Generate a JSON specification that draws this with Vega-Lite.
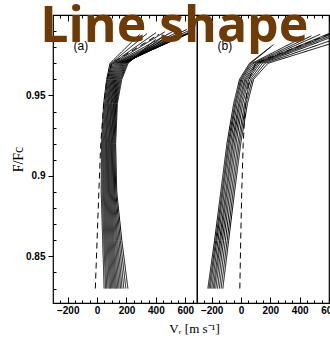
{
  "$schema": "https://vega.github.io/schema/vega-lite/v6.json",
  "padding": {"left": 10, "top": 1, "right": 0, "bottom": 0},
  "bounds": "flush",
  "spacing": 0,
  "config": {
    "view": {"stroke": "black", "strokeWidth": 1.2},
    "font": "Liberation Sans",
    "axis": {"grid": false, "domain": false, "tickColor": "black", "labelColor": "black", "titleColor": "black", "tickWidth": 1, "labelOverlap": false, "labelFlush": false}
  },
  "datasets": {
    "a": [
      {"id": "a1", "k": "s", "i": 0, "v": 48, "f": 0.83}, {"id": "a1", "k": "s", "i": 1, "v": 38, "f": 0.86}, {"id": "a1", "k": "s", "i": 2, "v": 28, "f": 0.89}, {"id": "a1", "k": "s", "i": 3, "v": 30, "f": 0.92}, {"id": "a1", "k": "s", "i": 4, "v": 45, "f": 0.945}, {"id": "a1", "k": "s", "i": 5, "v": 65, "f": 0.96}, {"id": "a1", "k": "s", "i": 6, "v": 88, "f": 0.97}, {"id": "a1", "k": "s", "i": 7, "v": 290, "f": 0.988},
      {"id": "a2", "k": "s", "i": 0, "v": 58, "f": 0.83}, {"id": "a2", "k": "s", "i": 1, "v": 46, "f": 0.86}, {"id": "a2", "k": "s", "i": 2, "v": 35, "f": 0.89}, {"id": "a2", "k": "s", "i": 3, "v": 36, "f": 0.92}, {"id": "a2", "k": "s", "i": 4, "v": 52, "f": 0.945}, {"id": "a2", "k": "s", "i": 5, "v": 72, "f": 0.96}, {"id": "a2", "k": "s", "i": 6, "v": 96, "f": 0.97}, {"id": "a2", "k": "s", "i": 7, "v": 340, "f": 0.9885},
      {"id": "a3", "k": "s", "i": 0, "v": 66, "f": 0.83}, {"id": "a3", "k": "s", "i": 1, "v": 53, "f": 0.86}, {"id": "a3", "k": "s", "i": 2, "v": 42, "f": 0.89}, {"id": "a3", "k": "s", "i": 3, "v": 42, "f": 0.92}, {"id": "a3", "k": "s", "i": 4, "v": 58, "f": 0.945}, {"id": "a3", "k": "s", "i": 5, "v": 78, "f": 0.96}, {"id": "a3", "k": "s", "i": 6, "v": 104, "f": 0.97}, {"id": "a3", "k": "s", "i": 7, "v": 400, "f": 0.989},
      {"id": "a4", "k": "s", "i": 0, "v": 75, "f": 0.83}, {"id": "a4", "k": "s", "i": 1, "v": 60, "f": 0.86}, {"id": "a4", "k": "s", "i": 2, "v": 48, "f": 0.89}, {"id": "a4", "k": "s", "i": 3, "v": 48, "f": 0.92}, {"id": "a4", "k": "s", "i": 4, "v": 64, "f": 0.945}, {"id": "a4", "k": "s", "i": 5, "v": 84, "f": 0.96}, {"id": "a4", "k": "s", "i": 6, "v": 112, "f": 0.97}, {"id": "a4", "k": "s", "i": 7, "v": 460, "f": 0.9895},
      {"id": "a5", "k": "s", "i": 0, "v": 84, "f": 0.83}, {"id": "a5", "k": "s", "i": 1, "v": 67, "f": 0.86}, {"id": "a5", "k": "s", "i": 2, "v": 54, "f": 0.89}, {"id": "a5", "k": "s", "i": 3, "v": 54, "f": 0.92}, {"id": "a5", "k": "s", "i": 4, "v": 70, "f": 0.945}, {"id": "a5", "k": "s", "i": 5, "v": 90, "f": 0.96}, {"id": "a5", "k": "s", "i": 6, "v": 120, "f": 0.97}, {"id": "a5", "k": "s", "i": 7, "v": 520, "f": 0.99},
      {"id": "a6", "k": "s", "i": 0, "v": 92, "f": 0.83}, {"id": "a6", "k": "s", "i": 1, "v": 74, "f": 0.86}, {"id": "a6", "k": "s", "i": 2, "v": 60, "f": 0.89}, {"id": "a6", "k": "s", "i": 3, "v": 59, "f": 0.92}, {"id": "a6", "k": "s", "i": 4, "v": 75, "f": 0.945}, {"id": "a6", "k": "s", "i": 5, "v": 96, "f": 0.96}, {"id": "a6", "k": "s", "i": 6, "v": 128, "f": 0.97}, {"id": "a6", "k": "s", "i": 7, "v": 570, "f": 0.9905},
      {"id": "a7", "k": "s", "i": 0, "v": 100, "f": 0.83}, {"id": "a7", "k": "s", "i": 1, "v": 81, "f": 0.86}, {"id": "a7", "k": "s", "i": 2, "v": 66, "f": 0.89}, {"id": "a7", "k": "s", "i": 3, "v": 64, "f": 0.92}, {"id": "a7", "k": "s", "i": 4, "v": 80, "f": 0.945}, {"id": "a7", "k": "s", "i": 5, "v": 102, "f": 0.96}, {"id": "a7", "k": "s", "i": 6, "v": 135, "f": 0.97}, {"id": "a7", "k": "s", "i": 7, "v": 610, "f": 0.991},
      {"id": "a8", "k": "s", "i": 0, "v": 108, "f": 0.83}, {"id": "a8", "k": "s", "i": 1, "v": 88, "f": 0.86}, {"id": "a8", "k": "s", "i": 2, "v": 72, "f": 0.89}, {"id": "a8", "k": "s", "i": 3, "v": 70, "f": 0.92}, {"id": "a8", "k": "s", "i": 4, "v": 86, "f": 0.945}, {"id": "a8", "k": "s", "i": 5, "v": 108, "f": 0.96}, {"id": "a8", "k": "s", "i": 6, "v": 142, "f": 0.97}, {"id": "a8", "k": "s", "i": 7, "v": 640, "f": 0.991},
      {"id": "a9", "k": "s", "i": 0, "v": 116, "f": 0.83}, {"id": "a9", "k": "s", "i": 1, "v": 95, "f": 0.86}, {"id": "a9", "k": "s", "i": 2, "v": 78, "f": 0.89}, {"id": "a9", "k": "s", "i": 3, "v": 76, "f": 0.92}, {"id": "a9", "k": "s", "i": 4, "v": 92, "f": 0.945}, {"id": "a9", "k": "s", "i": 5, "v": 114, "f": 0.96}, {"id": "a9", "k": "s", "i": 6, "v": 150, "f": 0.97}, {"id": "a9", "k": "s", "i": 7, "v": 655, "f": 0.9905},
      {"id": "a10", "k": "s", "i": 0, "v": 124, "f": 0.83}, {"id": "a10", "k": "s", "i": 1, "v": 102, "f": 0.86}, {"id": "a10", "k": "s", "i": 2, "v": 84, "f": 0.89}, {"id": "a10", "k": "s", "i": 3, "v": 81, "f": 0.92}, {"id": "a10", "k": "s", "i": 4, "v": 97, "f": 0.945}, {"id": "a10", "k": "s", "i": 5, "v": 120, "f": 0.96}, {"id": "a10", "k": "s", "i": 6, "v": 157, "f": 0.97}, {"id": "a10", "k": "s", "i": 7, "v": 660, "f": 0.99},
      {"id": "a11", "k": "s", "i": 0, "v": 132, "f": 0.83}, {"id": "a11", "k": "s", "i": 1, "v": 109, "f": 0.86}, {"id": "a11", "k": "s", "i": 2, "v": 90, "f": 0.89}, {"id": "a11", "k": "s", "i": 3, "v": 86, "f": 0.92}, {"id": "a11", "k": "s", "i": 4, "v": 102, "f": 0.945}, {"id": "a11", "k": "s", "i": 5, "v": 126, "f": 0.96}, {"id": "a11", "k": "s", "i": 6, "v": 164, "f": 0.97}, {"id": "a11", "k": "s", "i": 7, "v": 650, "f": 0.9895},
      {"id": "a12", "k": "s", "i": 0, "v": 141, "f": 0.83}, {"id": "a12", "k": "s", "i": 1, "v": 116, "f": 0.86}, {"id": "a12", "k": "s", "i": 2, "v": 96, "f": 0.89}, {"id": "a12", "k": "s", "i": 3, "v": 92, "f": 0.92}, {"id": "a12", "k": "s", "i": 4, "v": 108, "f": 0.945}, {"id": "a12", "k": "s", "i": 5, "v": 132, "f": 0.96}, {"id": "a12", "k": "s", "i": 6, "v": 171, "f": 0.97}, {"id": "a12", "k": "s", "i": 7, "v": 630, "f": 0.989},
      {"id": "a13", "k": "s", "i": 0, "v": 150, "f": 0.83}, {"id": "a13", "k": "s", "i": 1, "v": 124, "f": 0.86}, {"id": "a13", "k": "s", "i": 2, "v": 102, "f": 0.89}, {"id": "a13", "k": "s", "i": 3, "v": 97, "f": 0.92}, {"id": "a13", "k": "s", "i": 4, "v": 113, "f": 0.945}, {"id": "a13", "k": "s", "i": 5, "v": 138, "f": 0.96}, {"id": "a13", "k": "s", "i": 6, "v": 178, "f": 0.97}, {"id": "a13", "k": "s", "i": 7, "v": 600, "f": 0.988},
      {"id": "a14", "k": "s", "i": 0, "v": 160, "f": 0.83}, {"id": "a14", "k": "s", "i": 1, "v": 132, "f": 0.86}, {"id": "a14", "k": "s", "i": 2, "v": 108, "f": 0.89}, {"id": "a14", "k": "s", "i": 3, "v": 103, "f": 0.92}, {"id": "a14", "k": "s", "i": 4, "v": 118, "f": 0.945}, {"id": "a14", "k": "s", "i": 5, "v": 144, "f": 0.96}, {"id": "a14", "k": "s", "i": 6, "v": 185, "f": 0.97}, {"id": "a14", "k": "s", "i": 7, "v": 560, "f": 0.9875},
      {"id": "a15", "k": "s", "i": 0, "v": 170, "f": 0.83}, {"id": "a15", "k": "s", "i": 1, "v": 140, "f": 0.86}, {"id": "a15", "k": "s", "i": 2, "v": 114, "f": 0.89}, {"id": "a15", "k": "s", "i": 3, "v": 108, "f": 0.92}, {"id": "a15", "k": "s", "i": 4, "v": 123, "f": 0.945}, {"id": "a15", "k": "s", "i": 5, "v": 150, "f": 0.96}, {"id": "a15", "k": "s", "i": 6, "v": 192, "f": 0.97}, {"id": "a15", "k": "s", "i": 7, "v": 520, "f": 0.987},
      {"id": "a16", "k": "s", "i": 0, "v": 182, "f": 0.83}, {"id": "a16", "k": "s", "i": 1, "v": 149, "f": 0.86}, {"id": "a16", "k": "s", "i": 2, "v": 120, "f": 0.89}, {"id": "a16", "k": "s", "i": 3, "v": 114, "f": 0.92}, {"id": "a16", "k": "s", "i": 4, "v": 128, "f": 0.945}, {"id": "a16", "k": "s", "i": 5, "v": 156, "f": 0.96}, {"id": "a16", "k": "s", "i": 6, "v": 199, "f": 0.97}, {"id": "a16", "k": "s", "i": 7, "v": 480, "f": 0.9865},
      {"id": "a17", "k": "s", "i": 0, "v": 196, "f": 0.83}, {"id": "a17", "k": "s", "i": 1, "v": 158, "f": 0.86}, {"id": "a17", "k": "s", "i": 2, "v": 127, "f": 0.89}, {"id": "a17", "k": "s", "i": 3, "v": 120, "f": 0.92}, {"id": "a17", "k": "s", "i": 4, "v": 133, "f": 0.945}, {"id": "a17", "k": "s", "i": 5, "v": 162, "f": 0.96}, {"id": "a17", "k": "s", "i": 6, "v": 205, "f": 0.97}, {"id": "a17", "k": "s", "i": 7, "v": 440, "f": 0.986},
      {"id": "a18", "k": "s", "i": 0, "v": 210, "f": 0.83}, {"id": "a18", "k": "s", "i": 1, "v": 168, "f": 0.86}, {"id": "a18", "k": "s", "i": 2, "v": 134, "f": 0.89}, {"id": "a18", "k": "s", "i": 3, "v": 126, "f": 0.92}, {"id": "a18", "k": "s", "i": 4, "v": 138, "f": 0.945}, {"id": "a18", "k": "s", "i": 5, "v": 168, "f": 0.96}, {"id": "a18", "k": "s", "i": 6, "v": 211, "f": 0.97}, {"id": "a18", "k": "s", "i": 7, "v": 400, "f": 0.985},
      {"id": "ad", "k": "d", "i": 0, "v": -12, "f": 0.83}, {"id": "ad", "k": "d", "i": 1, "v": 0, "f": 0.86}, {"id": "ad", "k": "d", "i": 2, "v": 12, "f": 0.89}, {"id": "ad", "k": "d", "i": 3, "v": 25, "f": 0.92}, {"id": "ad", "k": "d", "i": 4, "v": 45, "f": 0.945}, {"id": "ad", "k": "d", "i": 5, "v": 68, "f": 0.96}, {"id": "ad", "k": "d", "i": 6, "v": 100, "f": 0.97}, {"id": "ad", "k": "d", "i": 7, "v": 420, "f": 0.988}
    ],
    "b": [
      {"id": "b1", "k": "s", "i": 0, "v": -226, "f": 0.83}, {"id": "b1", "k": "s", "i": 1, "v": -180, "f": 0.86}, {"id": "b1", "k": "s", "i": 2, "v": -138, "f": 0.89}, {"id": "b1", "k": "s", "i": 3, "v": -96, "f": 0.92}, {"id": "b1", "k": "s", "i": 4, "v": -50, "f": 0.945}, {"id": "b1", "k": "s", "i": 5, "v": -10, "f": 0.96}, {"id": "b1", "k": "s", "i": 6, "v": 58, "f": 0.97}, {"id": "b1", "k": "s", "i": 7, "v": 200, "f": 0.98},
      {"id": "b2", "k": "s", "i": 0, "v": -218, "f": 0.83}, {"id": "b2", "k": "s", "i": 1, "v": -172, "f": 0.86}, {"id": "b2", "k": "s", "i": 2, "v": -130, "f": 0.89}, {"id": "b2", "k": "s", "i": 3, "v": -88, "f": 0.92}, {"id": "b2", "k": "s", "i": 4, "v": -42, "f": 0.945}, {"id": "b2", "k": "s", "i": 5, "v": -2, "f": 0.96}, {"id": "b2", "k": "s", "i": 6, "v": 66, "f": 0.97}, {"id": "b2", "k": "s", "i": 7, "v": 220, "f": 0.9815},
      {"id": "b3", "k": "s", "i": 0, "v": -210, "f": 0.83}, {"id": "b3", "k": "s", "i": 1, "v": -165, "f": 0.86}, {"id": "b3", "k": "s", "i": 2, "v": -123, "f": 0.89}, {"id": "b3", "k": "s", "i": 3, "v": -81, "f": 0.92}, {"id": "b3", "k": "s", "i": 4, "v": -35, "f": 0.945}, {"id": "b3", "k": "s", "i": 5, "v": 5, "f": 0.96}, {"id": "b3", "k": "s", "i": 6, "v": 75, "f": 0.97}, {"id": "b3", "k": "s", "i": 7, "v": 420, "f": 0.986},
      {"id": "b4", "k": "s", "i": 0, "v": -200, "f": 0.83}, {"id": "b4", "k": "s", "i": 1, "v": -156, "f": 0.86}, {"id": "b4", "k": "s", "i": 2, "v": -114, "f": 0.89}, {"id": "b4", "k": "s", "i": 3, "v": -72, "f": 0.92}, {"id": "b4", "k": "s", "i": 4, "v": -26, "f": 0.945}, {"id": "b4", "k": "s", "i": 5, "v": 14, "f": 0.96}, {"id": "b4", "k": "s", "i": 6, "v": 86, "f": 0.97}, {"id": "b4", "k": "s", "i": 7, "v": 480, "f": 0.987},
      {"id": "b5", "k": "s", "i": 0, "v": -190, "f": 0.83}, {"id": "b5", "k": "s", "i": 1, "v": -146, "f": 0.86}, {"id": "b5", "k": "s", "i": 2, "v": -104, "f": 0.89}, {"id": "b5", "k": "s", "i": 3, "v": -62, "f": 0.92}, {"id": "b5", "k": "s", "i": 4, "v": -16, "f": 0.945}, {"id": "b5", "k": "s", "i": 5, "v": 24, "f": 0.96}, {"id": "b5", "k": "s", "i": 6, "v": 98, "f": 0.97}, {"id": "b5", "k": "s", "i": 7, "v": 540, "f": 0.988},
      {"id": "b6", "k": "s", "i": 0, "v": -182, "f": 0.83}, {"id": "b6", "k": "s", "i": 1, "v": -138, "f": 0.86}, {"id": "b6", "k": "s", "i": 2, "v": -96, "f": 0.89}, {"id": "b6", "k": "s", "i": 3, "v": -54, "f": 0.92}, {"id": "b6", "k": "s", "i": 4, "v": -8, "f": 0.945}, {"id": "b6", "k": "s", "i": 5, "v": 32, "f": 0.96}, {"id": "b6", "k": "s", "i": 6, "v": 108, "f": 0.97}, {"id": "b6", "k": "s", "i": 7, "v": 600, "f": 0.9885},
      {"id": "b7", "k": "s", "i": 0, "v": -172, "f": 0.83}, {"id": "b7", "k": "s", "i": 1, "v": -128, "f": 0.86}, {"id": "b7", "k": "s", "i": 2, "v": -86, "f": 0.89}, {"id": "b7", "k": "s", "i": 3, "v": -44, "f": 0.92}, {"id": "b7", "k": "s", "i": 4, "v": 2, "f": 0.945}, {"id": "b7", "k": "s", "i": 5, "v": 42, "f": 0.96}, {"id": "b7", "k": "s", "i": 6, "v": 118, "f": 0.97}, {"id": "b7", "k": "s", "i": 7, "v": 640, "f": 0.989},
      {"id": "b8", "k": "s", "i": 0, "v": -160, "f": 0.83}, {"id": "b8", "k": "s", "i": 1, "v": -118, "f": 0.86}, {"id": "b8", "k": "s", "i": 2, "v": -76, "f": 0.89}, {"id": "b8", "k": "s", "i": 3, "v": -34, "f": 0.92}, {"id": "b8", "k": "s", "i": 4, "v": 12, "f": 0.945}, {"id": "b8", "k": "s", "i": 5, "v": 52, "f": 0.96}, {"id": "b8", "k": "s", "i": 6, "v": 130, "f": 0.97}, {"id": "b8", "k": "s", "i": 7, "v": 640, "f": 0.988},
      {"id": "b9", "k": "s", "i": 0, "v": -148, "f": 0.83}, {"id": "b9", "k": "s", "i": 1, "v": -106, "f": 0.86}, {"id": "b9", "k": "s", "i": 2, "v": -65, "f": 0.89}, {"id": "b9", "k": "s", "i": 3, "v": -22, "f": 0.92}, {"id": "b9", "k": "s", "i": 4, "v": 24, "f": 0.945}, {"id": "b9", "k": "s", "i": 5, "v": 64, "f": 0.96}, {"id": "b9", "k": "s", "i": 6, "v": 146, "f": 0.97}, {"id": "b9", "k": "s", "i": 7, "v": 640, "f": 0.987},
      {"id": "b10", "k": "s", "i": 0, "v": -136, "f": 0.83}, {"id": "b10", "k": "s", "i": 1, "v": -94, "f": 0.86}, {"id": "b10", "k": "s", "i": 2, "v": -54, "f": 0.89}, {"id": "b10", "k": "s", "i": 3, "v": -12, "f": 0.92}, {"id": "b10", "k": "s", "i": 4, "v": 34, "f": 0.945}, {"id": "b10", "k": "s", "i": 5, "v": 76, "f": 0.96}, {"id": "b10", "k": "s", "i": 6, "v": 164, "f": 0.97}, {"id": "b10", "k": "s", "i": 7, "v": 640, "f": 0.985},
      {"id": "b11", "k": "s", "i": 0, "v": -124, "f": 0.83}, {"id": "b11", "k": "s", "i": 1, "v": -84, "f": 0.86}, {"id": "b11", "k": "s", "i": 2, "v": -44, "f": 0.89}, {"id": "b11", "k": "s", "i": 3, "v": -2, "f": 0.92}, {"id": "b11", "k": "s", "i": 4, "v": 44, "f": 0.945}, {"id": "b11", "k": "s", "i": 5, "v": 86, "f": 0.96}, {"id": "b11", "k": "s", "i": 6, "v": 184, "f": 0.97}, {"id": "b11", "k": "s", "i": 7, "v": 640, "f": 0.983},
      {"id": "bd", "k": "d", "i": 0, "v": -8, "f": 0.83}, {"id": "bd", "k": "d", "i": 1, "v": -2, "f": 0.86}, {"id": "bd", "k": "d", "i": 2, "v": 5, "f": 0.89}, {"id": "bd", "k": "d", "i": 3, "v": 15, "f": 0.92}, {"id": "bd", "k": "d", "i": 4, "v": 30, "f": 0.945}, {"id": "bd", "k": "d", "i": 5, "v": 55, "f": 0.96}, {"id": "bd", "k": "d", "i": 6, "v": 100, "f": 0.97}, {"id": "bd", "k": "d", "i": 7, "v": 600, "f": 0.988}
    ],
    "labA": [{"t": "(a)", "v": -110, "f": 0.978}],
    "labB": [{"t": "(b)", "v": -110, "f": 0.978}],
    "head": [{"t": "Line shape", "v": -455, "f": 0.983}]
  },
  "hconcat": [
    {
      "width": 144,
      "height": 288,
      "resolve": {"axis": {"x": "independent", "y": "independent"}},
      "layer": [
        {
          "data": {"name": "a"},
          "mark": {"type": "line", "color": "black", "strokeWidth": 1, "clip": true},
          "encoding": {
            "x": {"field": "v", "type": "quantitative", "scale": {"domain": [-300, 680], "nice": false, "zero": false},
              "axis": {"orient": "bottom", "values": [-250, -200, -150, -100, -50, 0, 50, 100, 150, 200, 250, 300, 350, 400, 450, 500, 550, 600, 650],
                "labelExpr": "datum.value % 200 === 0 ? datum.label : ''",
                "tickSize": {"condition": {"test": "datum.value % 200 === 0", "value": -6}, "value": -3},
                "labelPadding": 8, "labelFontSize": 10, "labelFontWeight": "bold", "labelFont": "Liberation Sans",
                "title": "Vᵣ [m s⁻¹]", "titleFont": "Liberation Serif", "titleFontSize": 13, "titleFontWeight": "normal", "titleX": 141, "titlePadding": 4}},
            "y": {"field": "f", "type": "quantitative", "scale": {"domain": [0.821, 1.0], "nice": false, "zero": false},
              "axis": {"orient": "left", "values": [0.83, 0.84, 0.85, 0.86, 0.87, 0.88, 0.89, 0.9, 0.91, 0.92, 0.93, 0.94, 0.95, 0.96, 0.97, 0.98, 0.99],
                "format": ".2~f",
                "labelExpr": "(datum.value == 0.85 || datum.value == 0.9 || datum.value == 0.95) ? datum.label : ''",
                "tickSize": {"condition": {"test": "datum.value == 0.85 || datum.value == 0.9 || datum.value == 0.95", "value": 5}, "value": -3},
                "labelPadding": 3, "labelFontSize": 10, "labelFontWeight": "bold", "labelFont": "Liberation Sans",
                "title": "F/Fc", "titleFont": "Liberation Serif", "titleFontSize": 14, "titleFontWeight": "normal", "titlePadding": 0}},
            "detail": {"field": "id"},
            "order": {"field": "i"},
            "strokeDash": {"field": "k", "type": "nominal", "scale": {"domain": ["s", "d"], "range": [[1, 0], [6, 4]]}, "legend": null}
          }
        },
        {
          "data": {"name": "a"},
          "mark": {"type": "line", "strokeOpacity": 0},
          "encoding": {
            "x": {"field": "v", "type": "quantitative", "axis": {"orient": "top", "values": [-250, -200, -150, -100, -50, 0, 50, 100, 150, 200, 250, 300, 350, 400, 450, 500, 550, 600, 650], "labels": false, "title": null,
              "tickSize": {"condition": {"test": "datum.value % 200 === 0", "value": -6}, "value": -3}}},
            "y": {"field": "f", "type": "quantitative", "axis": null},
            "detail": {"field": "id"}
          }
        },
        {
          "data": {"name": "labA"},
          "mark": {"type": "text", "font": "Liberation Sans", "fontSize": 12, "baseline": "alphabetic", "color": "black"},
          "encoding": {
            "x": {"field": "v", "type": "quantitative", "axis": null},
            "y": {"field": "f", "type": "quantitative", "axis": null},
            "text": {"field": "t"}
          }
        }
      ]
    },
    {
      "width": 132,
      "height": 288,
      "resolve": {"axis": {"x": "independent", "y": "independent"}},
      "layer": [
        {
          "data": {"name": "b"},
          "mark": {"type": "line", "color": "black", "strokeWidth": 1, "clip": true},
          "encoding": {
            "x": {"field": "v", "type": "quantitative", "scale": {"domain": [-300, 600], "nice": false, "zero": false},
              "axis": {"orient": "bottom", "values": [-250, -200, -150, -100, -50, 0, 50, 100, 150, 200, 250, 300, 350, 400, 450, 500, 550, 600],
                "labelExpr": "datum.value % 200 === 0 ? datum.label : ''",
                "tickSize": {"condition": {"test": "datum.value % 200 === 0", "value": -6}, "value": -3},
                "labelPadding": 8, "labelFontSize": 10, "labelFontWeight": "bold", "labelFont": "Liberation Sans", "title": null}},
            "y": {"field": "f", "type": "quantitative", "scale": {"domain": [0.821, 1.0], "nice": false, "zero": false}, "axis": null},
            "detail": {"field": "id"},
            "order": {"field": "i"},
            "strokeDash": {"field": "k", "type": "nominal", "scale": {"domain": ["s", "d"], "range": [[1, 0], [6, 4]]}, "legend": null}
          }
        },
        {
          "data": {"name": "b"},
          "mark": {"type": "line", "strokeOpacity": 0},
          "encoding": {
            "x": {"field": "v", "type": "quantitative", "axis": {"orient": "top", "values": [-250, -200, -150, -100, -50, 0, 50, 100, 150, 200, 250, 300, 350, 400, 450, 500, 550, 600], "labels": false, "title": null,
              "tickSize": {"condition": {"test": "datum.value % 200 === 0", "value": -6}, "value": -3}}},
            "y": {"field": "f", "type": "quantitative", "axis": null},
            "detail": {"field": "id"}
          }
        },
        {
          "data": {"name": "labB"},
          "mark": {"type": "text", "font": "Liberation Sans", "fontSize": 12, "baseline": "alphabetic", "color": "black"},
          "encoding": {
            "x": {"field": "v", "type": "quantitative", "axis": null},
            "y": {"field": "f", "type": "quantitative", "axis": null},
            "text": {"field": "t"}
          }
        },
        {
          "data": {"name": "head"},
          "mark": {"type": "text", "font": "Open Sans", "fontSize": 50, "fontWeight": "bold", "color": "#6e3b06", "align": "center", "baseline": "alphabetic", "clip": false},
          "encoding": {
            "x": {"field": "v", "type": "quantitative", "axis": null},
            "y": {"field": "f", "type": "quantitative", "axis": null},
            "text": {"field": "t"}
          }
        }
      ]
    }
  ]
}
